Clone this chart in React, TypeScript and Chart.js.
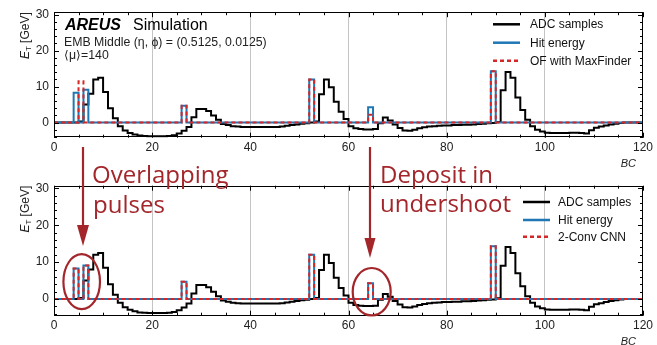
import React, { useEffect, useRef } from 'react';
import { Chart, registerables } from 'chart.js';

Chart.register(...registerables);

// ---------------- data ----------------
const N_BC = 120;
const adcSamples = [
  0, 0, 0, 0, 0, 0.3, 5.0, 8.0, 12.0, 12.5,
  8.5, 4.0, 1.2, -1.0, -2.2, -2.9, -3.3, -3.6, -3.7, -3.8,
  -3.8, -3.8, -3.8, -3.7, -3.5, -3.0, -2.3, -1.2, 1.5, 3.8,
  3.8, 3.2, 2.0, 0.8, -0.4, -0.7, -1.0, -1.1, -1.2, -1.2,
  -1.2, -1.2, -1.2, -1.2, -1.2, -1.2, -1.1, -0.9, -0.7, -0.5,
  -0.3, -0.15, 0, 0.3, 7.9, 12.0, 9.8, 5.8, 3.0, 1.0,
  -1.0, -1.6, -1.8, -1.9, -1.9, -1.8, -0.2, 1.4, 0.6, -0.5,
  -1.5, -2.2, -2.3, -2.0, -1.6, -1.3, -1.1, -1.0, -0.9, -0.8,
  -0.8, -0.7, -0.7, -0.6, -0.6, -0.5, -0.4, -0.3, -0.2, -0.1,
  0.2, 9.0, 14.1, 12.5, 7.0, 3.5, 0.8, -1.0, -2.0, -2.5,
  -2.8, -2.9, -2.9, -2.9, -2.9, -2.8, -2.8, -2.9, -3.0, -2.1,
  -1.4, -1.1, -0.8, -0.5, -0.3, -0.1, 0, 0, 0, 0,
];
const hitBins = [4, 6, 26, 52, 64, 89];
const hitValues = [8.3, 9.1, 4.7, 12.0, 4.3, 14.3];
const ofBins = [5, 26, 52, 64, 89];
const ofValues = [11.5, 4.7, 12.0, 2.2, 14.3];
const cnnBins = [4, 6, 26, 52, 64, 89];
const cnnValues = [8.3, 9.1, 4.7, 12.0, 4.3, 14.3];
const xTickValues = [0, 20, 40, 60, 80, 100, 120];
const yTickValues = [0, 10, 20, 30];

// ---------------- helpers ----------------
const FAM = '"Liberation Sans", Arial, Helvetica, sans-serif';
const BLUE = '#1f77b4';
const RED = '#d62728';
const ANN = '#a3262b';

function dense(bins: number[], values: number[]): number[] {
  const a = new Array(N_BC).fill(0);
  bins.forEach((b, i) => { a[b] = values[i]; });
  return a;
}
function steps(values: number[]) {
  const pts = values.map((v, i) => ({ x: i, y: v }));
  pts.push({ x: N_BC, y: values[values.length - 1] });
  return pts;
}

type Panel = {
  height: number; top: number; xAxisH: number; ymin: number; ymax: number;
  recoLabel: string; reco: number[]; legendY: number[]; legendX: number;
  header: boolean; spacing: number;
};

function panelPlugin(p: Panel) {
  return {
    id: 'atlasDecor',
    afterDraw(chart: any) {
      const ctx: CanvasRenderingContext2D = chart.ctx;
      const a = chart.chartArea;
      const xs = chart.scales.x;
      const ys = chart.scales.y;
      ctx.save();
      // frame
      ctx.strokeStyle = '#000';
      ctx.lineWidth = 1;
      ctx.strokeRect(Math.round(a.left) + 0.5, Math.round(a.top) + 0.5,
        Math.round(a.right - a.left) - 1, Math.round(a.bottom - a.top) - 1);
      // inward ticks
      ctx.beginPath();
      for (let v = 0; v <= 120; v += 5) {
        const px = Math.round(xs.getPixelForValue(v)) + 0.5;
        const len = v % 20 === 0 ? 5 : 3;
        ctx.moveTo(px, a.bottom); ctx.lineTo(px, a.bottom - len);
        ctx.moveTo(px, a.top); ctx.lineTo(px, a.top + len);
      }
      for (let v = -4; v <= 30; v += 2) {
        if (v < p.ymin || v > p.ymax) continue;
        const py = Math.round(ys.getPixelForValue(v)) + 0.5;
        const len = v % 10 === 0 ? 5 : 3;
        ctx.moveTo(a.left, py); ctx.lineTo(a.left + len, py);
        ctx.moveTo(a.right, py); ctx.lineTo(a.right - len, py);
      }
      ctx.stroke();

      // y title
      ctx.save();
      ctx.translate(26, a.top);
      ctx.rotate(-Math.PI / 2);
      ctx.fillStyle = '#222';
      ctx.textBaseline = 'middle';
      ctx.textAlign = 'left';
      const fE = 'italic 12px ' + FAM, fT = '8px ' + FAM, fG = '12px ' + FAM;
      ctx.font = fE; const wE = ctx.measureText('E').width;
      ctx.font = fT; const wT = ctx.measureText('T').width;
      ctx.font = fG; const wG = ctx.measureText(' [GeV]').width;
      let x = -(wE + wT + wG);
      ctx.font = fE; ctx.fillText('E', x, 0); x += wE;
      ctx.font = fT; ctx.fillText('T', x, 3); x += wT;
      ctx.font = fG; ctx.fillText(' [GeV]', x, 0);
      ctx.restore();

      // x title
      ctx.fillStyle = '#222';
      ctx.font = 'italic 11px ' + FAM;
      ctx.textAlign = 'right';
      ctx.textBaseline = 'alphabetic';
      ctx.fillText('BC', 636, a.bottom + 29);

      // legend
      const ds = chart.data.datasets;
      ctx.textAlign = 'left';
      ctx.textBaseline = 'middle';
      ctx.font = '12px ' + FAM;
      ds.forEach((d: any, i: number) => {
        const y = p.legendY[i];
        ctx.save();
        ctx.strokeStyle = d.borderColor;
        ctx.lineWidth = 2.5;
        ctx.setLineDash(d.borderDash || []);
        ctx.beginPath();
        ctx.moveTo(p.legendX, y); ctx.lineTo(p.legendX + 27, y);
        ctx.stroke();
        ctx.restore();
        ctx.fillStyle = '#111';
        ctx.fillText(d.label, p.legendX + p.spacing, y + 0.5);
      });

      // header
      if (p.header) {
        ctx.textAlign = 'left';
        ctx.textBaseline = 'alphabetic';
        ctx.fillStyle = '#000';
        ctx.font = 'italic bold 16px ' + FAM;
        ctx.fillText('AREUS', 65, 30);
        ctx.font = '16px ' + FAM;
        ctx.fillText('Simulation', 133, 30);
        ctx.fillStyle = '#222';
        ctx.font = '12.3px ' + FAM;
        ctx.fillText('EMB Middle (\u03b7, \u03d5) = (0.5125, 0.0125)', 64, 46);
        ctx.fillText('\u27e8\u03bc\u27e9=140', 64, 59);
      }
      ctx.restore();
    },
  };
}

function makeConfig(p: Panel): any {
  return {
    type: 'line',
    data: {
      datasets: [
        { label: 'ADC samples', data: steps(adcSamples), borderColor: '#000', borderWidth: 2, stepped: 'before', pointRadius: 0, fill: false, order: 3 },
        { label: 'Hit energy', data: steps(dense(hitBins, hitValues)), borderColor: BLUE, borderWidth: 2, stepped: 'before', pointRadius: 0, fill: false, order: 2 },
        { label: p.recoLabel, data: steps(p.reco), borderColor: RED, borderWidth: 2, borderDash: [4, 3], stepped: 'before', pointRadius: 0, fill: false, order: 1 },
      ],
    },
    options: {
      animation: false,
      responsive: false,
      maintainAspectRatio: false,
      events: [],
      layout: { padding: { top: p.top, right: 14, left: 0, bottom: 0 } },
      plugins: { legend: { display: false }, tooltip: { enabled: false } },
      scales: {
        x: {
          type: 'linear', min: 0, max: 120,
          afterBuildTicks: (s: any) => { s.ticks = xTickValues.map((v) => ({ value: v })); },
          afterFit: (s: any) => { s.height = p.xAxisH; },
          grid: {
            drawTicks: false,
            color: (c: any) => (c.tick && c.tick.value > 0 && c.tick.value < 120 ? '#c4c4c4' : 'rgba(0,0,0,0)'),
            lineWidth: 1,
          },
          border: { display: false },
          ticks: { padding: 3, maxRotation: 0, autoSkip: false, color: '#222', font: { family: FAM, size: 12 } },
        },
        y: {
          type: 'linear', min: p.ymin, max: p.ymax,
          afterBuildTicks: (s: any) => { s.ticks = yTickValues.map((v) => ({ value: v })); },
          afterFit: (s: any) => { s.width = 54; },
          grid: { display: false, drawTicks: false },
          border: { display: false },
          ticks: { padding: 5, color: '#222', font: { family: FAM, size: 12 } },
        },
      },
    },
    plugins: [panelPlugin(p)],
  };
}

const topPanel: Panel = {
  height: 172, top: 10, xAxisH: 34.3, ymin: -4.2, ymax: 30.7,
  recoLabel: 'OF with MaxFinder', reco: dense(ofBins, ofValues),
  legendY: [24.3, 42.7, 60.7], legendX: 493, header: true, spacing: 37,
};
const bottomPanel: Panel = {
  height: 173, top: 13.7, xAxisH: 29.3, ymin: -4.5, ymax: 30.7,
  recoLabel: '2-Conv CNN', reco: dense(cnnBins, cnnValues),
  legendY: [30, 48, 64.7], legendX: 523, header: false, spacing: 35,
};

function PanelChart({ p, y }: { p: Panel; y: number }) {
  const ref = useRef<HTMLCanvasElement | null>(null);
  useEffect(() => {
    if (!ref.current) return;
    const chart = new Chart(ref.current, makeConfig(p));
    return () => chart.destroy();
  }, [p]);
  return (
    <canvas ref={ref} width={657} height={p.height}
      style={{ position: 'absolute', left: 0, top: y, width: 657, height: p.height }} />
  );
}

export default function App() {
  const annFont = '"Open Sans", "Noto Sans", sans-serif';
  return (
    <div style={{ position: 'absolute', left: 0, top: 0, width: 657, height: 345, background: '#fff', overflow: 'hidden' }}>
      <PanelChart p={topPanel} y={0} />
      <PanelChart p={bottomPanel} y={172} />
      <svg width={657} height={345} style={{ position: 'absolute', left: 0, top: 0, pointerEvents: 'none' }}>
        <g fill={ANN} style={{ fontFamily: annFont, fontSize: 24 }}>
          <text x={92} y={183}>Overlapping</text>
          <text x={93} y={212.5}>pulses</text>
          <text x={380} y={182.5}>Deposit in</text>
          <text x={380} y={211.5}>undershoot</text>
        </g>
        <g stroke={ANN} strokeWidth={2.2} fill="none">
          <line x1={83} y1={147} x2={83} y2={230} />
          <line x1={370} y1={147} x2={370} y2={242} />
          <ellipse cx={81.7} cy={281.7} rx={18.3} ry={27.5} />
          <ellipse cx={371.7} cy={291.7} rx={19} ry={23.7} />
        </g>
        <g fill={ANN}>
          <polygon points="77,225 89,225 83,246" />
          <polygon points="364.5,238 375.5,238 370,258" />
        </g>
      </svg>
    </div>
  );
}
